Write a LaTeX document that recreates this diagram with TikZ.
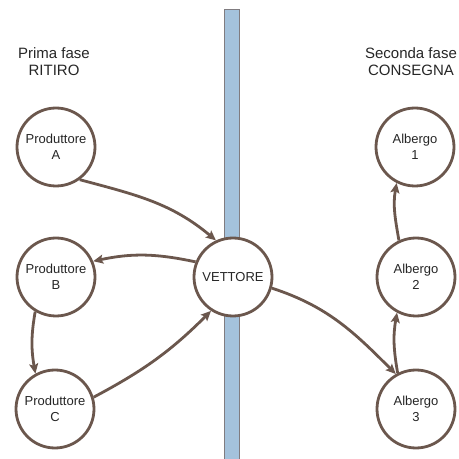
\documentclass[tikz,border=0pt]{standalone}
\usepackage{fontspec}
\setmainfont{Liberation Sans}
\usetikzlibrary{arrows.meta}
\definecolor{brownline}{RGB}{107,87,77}
\definecolor{barblue}{RGB}{164,194,220}
\definecolor{bargray}{RGB}{128,124,128}
\tikzset{
  place/.style={circle, draw=brownline, line width=2.8pt, fill=white,
    minimum size=78pt, inner sep=0pt, align=center,
    font=\fontsize{13}{16.5}\selectfont, text=black!85},
  title/.style={align=center, font=\fontsize{15}{17.5}\selectfont, text=black!85, inner sep=0pt},
  conn/.style={draw=brownline, line width=2.8pt,
    -{Stealth[length=10pt,width=9pt,inset=2pt]}}
}
\begin{document}
\begin{tikzpicture}[x=1pt,y=1pt]
\useasboundingbox (0,0) rectangle (459,459);
\path[draw=bargray, fill=barblue, line width=1.2pt] (224.5,-5) rectangle (239.5,449.5);

\node[title] (t1) at (54,397.5) {Prima fase\\RITIRO};
\node[title] (t2) at (411,397.5) {Seconda fase\\CONSEGNA};

\node[place] (A) at (56,312) {Produttore\\A};
\node[place] (B) at (56,182) {Produttore\\B};
\node[place] (C) at (55,50) {Produttore\\C};
\node[place] (V) at (233,182) {VETTORE};
\node[place] (H1) at (415,312) {Albergo\\1};
\node[place] (H2) at (416,182) {Albergo\\2};
\node[place] (H3) at (416,50) {Albergo\\3};

\draw[conn] (A.-54) to[out=-15,in=140] (V.115);
\draw[conn] (V.158) to[out=168,in=12] (B.23);
\draw[conn] (B.-121) to[out=-100,in=100] (C.119);
\draw[conn] (C.17) to[out=28,in=225] (V.-123);
\draw[conn] (V.-16) to[out=-18,in=135] (H3.120);
\draw[conn] (H3.117) to[out=100,in=-100] (H2.-118);
\draw[conn] (H2.115) to[out=100,in=-100] (H1.-117);
\end{tikzpicture}
\end{document}
